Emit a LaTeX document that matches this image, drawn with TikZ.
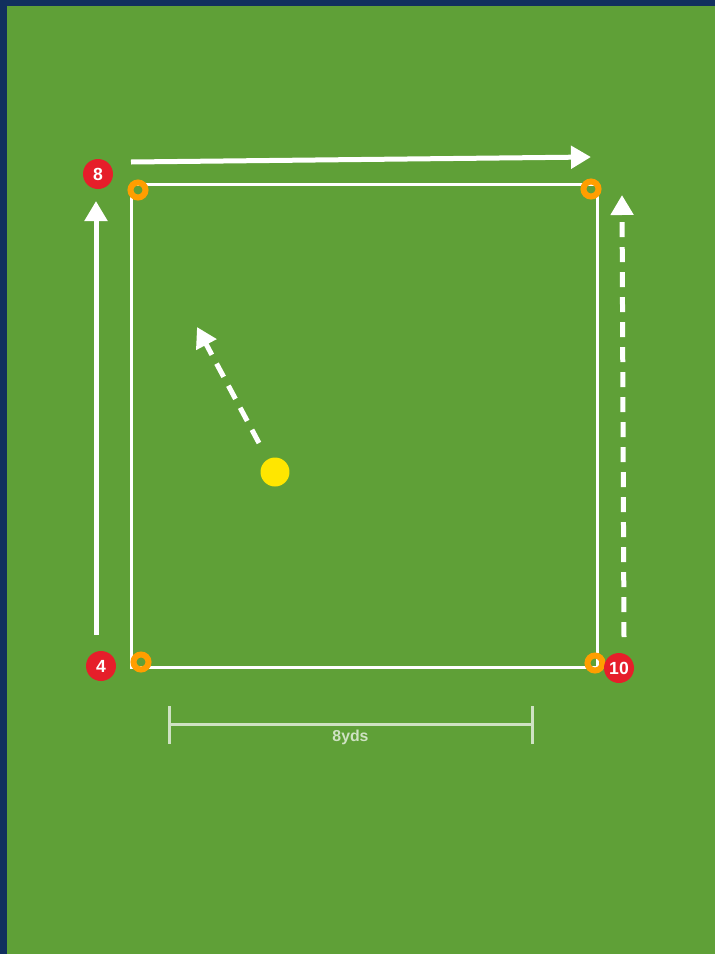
\documentclass[tikz,border=0pt]{standalone}
\usepackage{fontspec}
\setmainfont{Liberation Sans}
\usetikzlibrary{arrows.meta,positioning}
\definecolor{pitch}{HTML}{5FA037}
\definecolor{navy}{HTML}{11305E}
\definecolor{cone}{HTML}{FF9E00}
\definecolor{player}{HTML}{E61E2A}
\definecolor{ballc}{HTML}{FFE600}
\begin{document}
\begin{tikzpicture}[x=0.02cm,y=-0.02cm,
playernode/.style={circle,fill=player,minimum size=0.6cm,inner sep=0pt,text=white,font=\bfseries},
conenode/.style={circle,draw=cone,line width=0.12cm,minimum size=0.3cm,inner sep=0pt},
ballnode/.style={circle,fill=ballc,minimum size=0.58cm,inner sep=0pt},
run/.style={white,line width=0.1cm,-{Triangle[length=0.4cm,width=0.44cm]}},
pass/.style={run,dash pattern=on 0.3cm off 0.2cm},
measure/.style={white!70!pitch,line width=0.06cm}]
% pitch
\fill[navy](0,0)rectangle(715,954);
\fill[pitch](7,6)rectangle(715,954);
\useasboundingbox(0,0)rectangle(715,954);
% square
\draw[white,line width=0.06cm](131,184)rectangle(597,667);
% cones
\node[conenode](c1)at(138,190){};
\node[conenode](c2)at(591,189){};
\node[conenode](c3)at(141,662){};
\node[conenode](c4)at(595,663){};
% players
\node[playernode](p8)at(98,174){8};
\node[playernode](p4)at(101,666){4};
\node[playernode](p10)at(619,668){10};
\node[ballnode](ball)at(275,472){};
% runs
\coordinate(r1a)at(131,162);\coordinate(r1b)at(591,157);
\coordinate(r2a)at(96,635);\coordinate(r2b)at(96,201);
\coordinate(r3a)at(624,637);\coordinate(r3b)at(622,195);
\coordinate(b1)at(259,443);\coordinate(b2)at(197,327);
\draw[run](r1a)--(r1b);
\draw[run](r2a)--(r2b);
\draw[pass](r3a)--(r3b);
\draw[pass](b1)--(b2);
% distance
\coordinate(m1)at(169,724);\coordinate(m2)at(532,724);
\draw[measure](m1)--node[below=-1pt,font=\bfseries\small,text=white!70!pitch]{8yds}(m2);
\draw[measure](169,706)--(169,744);
\draw[measure](532,706)--(532,744);
\end{tikzpicture}
\end{document}
